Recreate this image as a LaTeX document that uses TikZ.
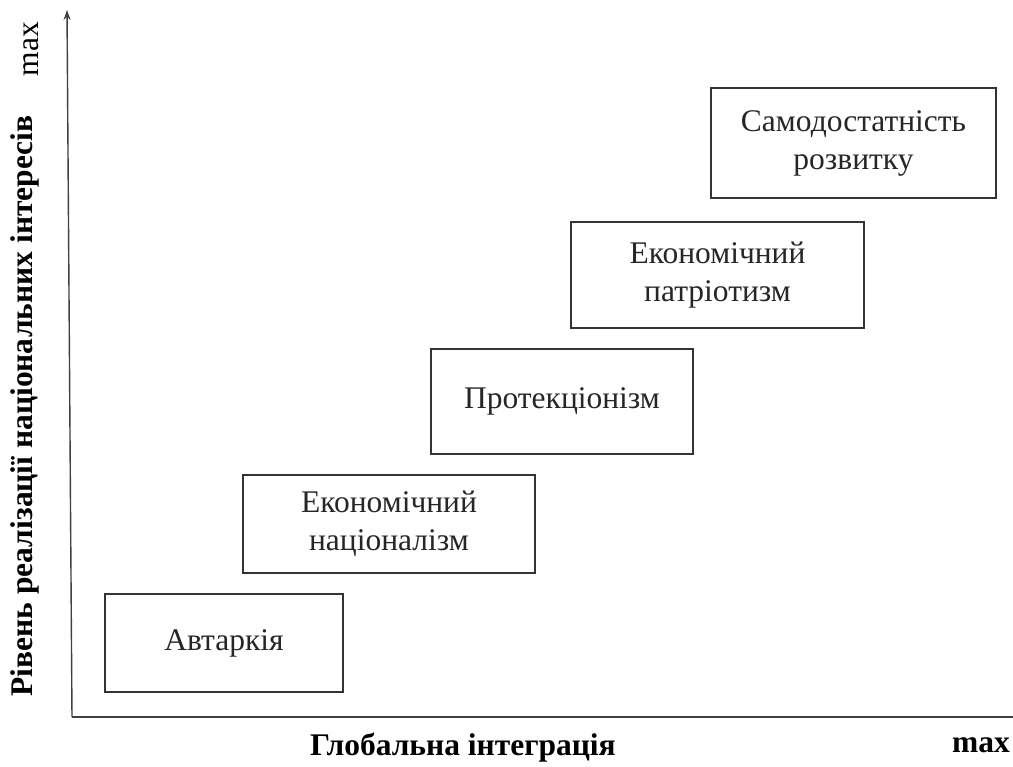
\documentclass[tikz,border=0pt]{standalone}
\usepackage{fontspec}
\setmainfont{Liberation Serif}
\usetikzlibrary{arrows.meta}
\begin{document}
\begin{tikzpicture}[x=1pt,y=-1pt,
  stage/.style={draw=black!80,line width=1.6pt,fill=white,inner sep=0pt,align=center,text=black!85,font=\fontsize{31.5}{38}\selectfont},
  axis/.style={draw=black!75,line width=1.4pt},
  axlabel/.style={font=\bfseries\fontsize{31.5}{36}\selectfont,inner sep=0pt}]
\useasboundingbox (0,0) rectangle (1013,767);
\coordinate (o) at (72,717);
\coordinate (ytop) at (67,10);
\coordinate (xend) at (1013,717);
\draw[axis,-{Stealth[length=10pt,width=7pt]}] (o) -- (ytop);
\draw[axis] (o) -- (xend);
\node[stage,minimum width=238pt,minimum height=98pt] (a) at (224,643) {Автаркія};
\node[stage,minimum width=292pt,minimum height=98pt] (b) at (389,524) {Економічний\\націоналізм};
\node[stage,minimum width=262pt,minimum height=105pt] (c) at (562,401.5) {Протекціонізм};
\node[stage,minimum width=293pt,minimum height=106pt] (d) at (717.5,275) {Економічний\\патріотизм};
\node[stage,minimum width=285pt,minimum height=110pt] (e) at (853.5,143) {Самодостатність\\розвитку};
\node[axlabel] (xl) at (463,748) {Глобальна інтеграція};
\node[axlabel] (xm) at (981,745) {max};
\node[axlabel,rotate=90] (yl) at (25,406) {Рівень реалізації  національних інтересів};
\node[inner sep=0pt,rotate=90,font=\fontsize{31.5}{36}\selectfont] (ym) at (31,49) {max};
\end{tikzpicture}
\end{document}
